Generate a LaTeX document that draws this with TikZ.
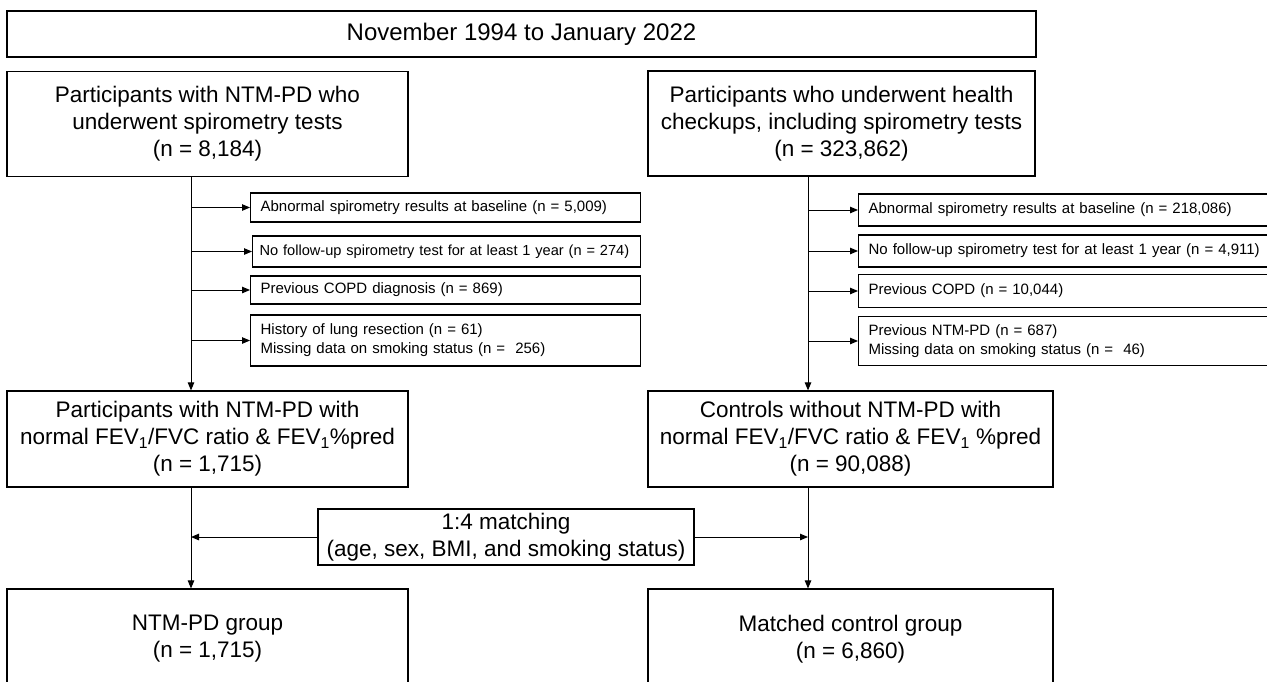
\documentclass[tikz,border=0pt]{standalone}
\usepackage{fontspec}
\setmainfont{Liberation Sans}
\usetikzlibrary{arrows.meta}

\begin{document}
\begin{tikzpicture}[x=1pt,y=-1pt,
        mainbox/.style={draw,line width=1.2pt,align=center,inner sep=0pt,font=\fontsize{22.5}{27}\selectfont},
        exclbox/.style={draw,line width=1.2pt,anchor=west,align=left,inner xsep=10pt,inner ysep=0pt,font=\fontsize{15}{19}\selectfont},
        arr/.style={line width=1pt,-{Triangle[length=8pt,width=6.5pt]}}]
        %    \draw [help lines] (0,0) grid [step=50] (1267,681);
        \clip (0,0) rectangle (1267,681);
        \fill [white] (0,0) rectangle (1267,681);

        \coordinate (lx) at (191,0);
        \coordinate (rx) at (808,0);

        \path node (period) [mainbox,minimum width=1029pt,minimum height=46pt,font=\fontsize{24}{28}\selectfont] at (521.5,34) {November 1994 to January 2022};

        \path node (ntm) [mainbox,minimum width=401pt,minimum height=105pt] at (207.5,124) {Participants with NTM-PD who\\underwent spirometry tests\\(n = 8,184)};
        \path node (chk) [mainbox,minimum width=387pt,minimum height=105pt] at (841.5,123.5) {Participants who underwent health\\checkups, including spirometry tests\\(n = 323,862)};

        \path node (exa) [exclbox,text width=370pt,minimum height=29pt] at (250,207.5) {Abnormal spirometry results at baseline (n = 5,009)};
        \path node (exb) [exclbox,inner xsep=7pt,text width=374pt,minimum height=31pt,font=\fontsize{14.6}{19}\selectfont] at (252,251.5) {\mbox{No follow-up spirometry test for at least 1 year (n = 274)}};
        \path node (exc) [exclbox,text width=370pt,minimum height=28pt] at (250,290) {Previous COPD diagnosis (n = 869)};
        \path node (exd) [exclbox,text width=370pt,minimum height=51pt] at (250,340.5) {History of lung resection (n = 61)\\Missing data on smoking status (n =\ \ 256)};

        \path node (exe) [exclbox,text width=404pt,minimum height=32pt] at (858,210) {Abnormal spirometry results at baseline (n = 218,086)};
        \path node (exf) [exclbox,text width=404pt,minimum height=32pt] at (858,251) {No follow-up spirometry test for at least 1 year (n = 4,911)};
        \path node (exg) [exclbox,text width=404pt,minimum height=33pt] at (858,291) {Previous COPD (n = 10,044)};
        \path node (exh) [exclbox,text width=404pt,minimum height=49pt] at (858,341) {Previous NTM-PD (n = 687)\\Missing data on smoking status (n =\ \ 46)};

        \path node (ntmn) [mainbox,minimum width=401pt,minimum height=96pt] at (207.5,439) {Participants with NTM-PD with\\normal FEV\textsubscript{1}/FVC ratio \& FEV\textsubscript{1}\%pred\\(n = 1,715)};
        \path node (ctrl) [mainbox,minimum width=405pt,minimum height=96pt] at (850.5,439) {Controls without NTM-PD with\\normal FEV\textsubscript{1}/FVC ratio \& FEV\textsubscript{1} \%pred\\(n = 90,088)};

        \path node (match) [mainbox,minimum width=376pt,minimum height=56pt] at (506,537) {1:4 matching\\(age, sex, BMI, and smoking status)};

        \path node (grp) [mainbox,minimum width=401pt,minimum height=100pt] at (207.5,639) {NTM-PD group\\(n = 1,715)};
        \path node (mcg) [mainbox,minimum width=405pt,minimum height=100pt] at (850.5,639) {Matched control group\\(n = 6,860)};

        % left flow
        \draw[arr] (ntm.south -| lx) -- (ntmn.north -| lx);
        \draw[arr] (ntmn.south -| lx) -- (grp.north -| lx);
        \foreach \e in {exa,exb,exc,exd}
            \draw[arr] (lx |- \e) -- (\e);

        % right flow
        \draw[arr] (chk.south -| rx) -- (ctrl.north -| rx);
        \draw[arr] (ctrl.south -| rx) -- (mcg.north -| rx);
        \foreach \e in {exe,exf,exg,exh}
            \draw[arr] (rx |- \e) -- (\e);

        \draw[arr] (match) -- (lx |- match);
        \draw[arr] (match) -- (rx |- match);
\end{tikzpicture}
\end{document}
